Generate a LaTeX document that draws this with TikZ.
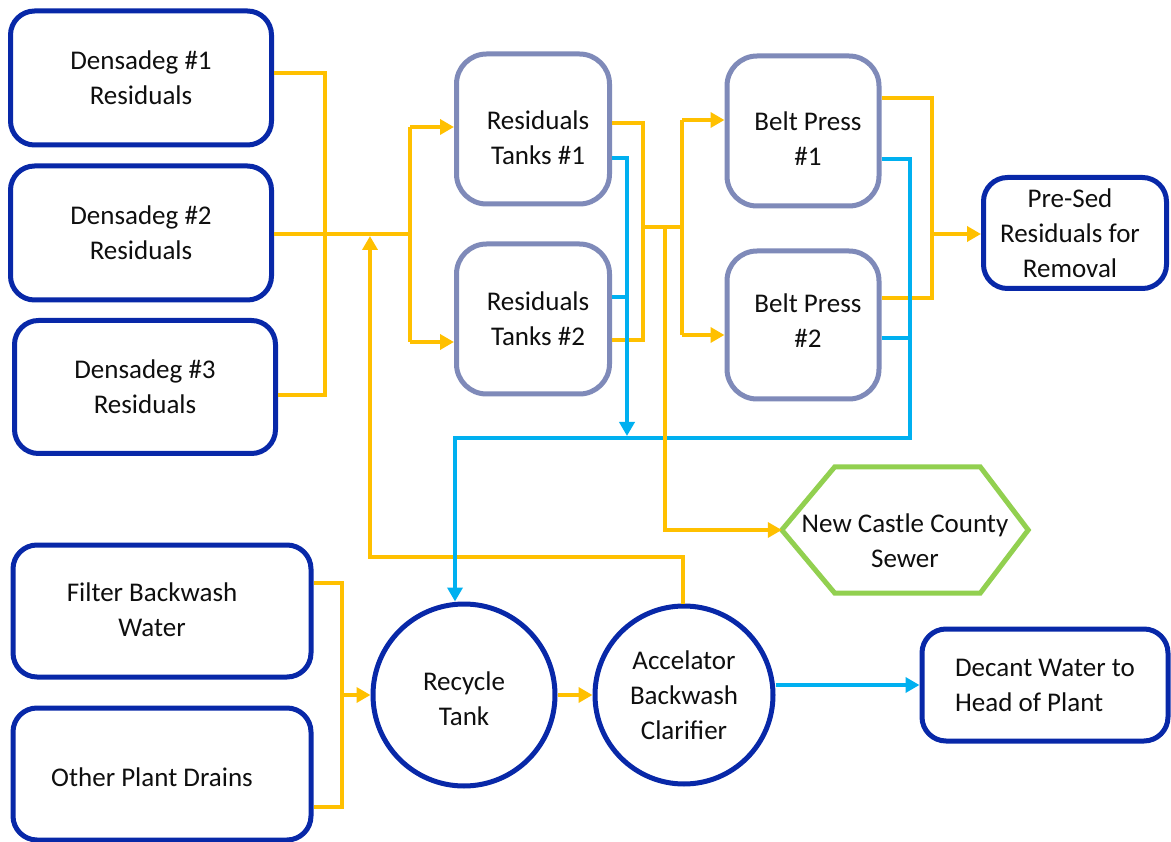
\documentclass[tikz,border=0pt]{standalone}
\usepackage{fontspec}
\setmainfont{Carlito}
\usetikzlibrary{arrows.meta}
\definecolor{dblue}{RGB}{8,40,168}
\definecolor{gblue}{RGB}{127,138,185}
\definecolor{yel}{RGB}{255,192,0}
\definecolor{cyanb}{RGB}{0,176,240}
\definecolor{grn}{RGB}{146,208,80}
\definecolor{txt}{RGB}{15,15,15}
\begin{document}
\begin{tikzpicture}[x=1pt,y=-1pt,
  dbox/.style={draw=dblue, line width=5pt, rounded corners=24pt, fill=white, align=center, inner sep=0pt, text=txt, font=\fontsize{27}{35}\selectfont},
  gbox/.style={dbox, draw=gblue, rounded corners=30pt},
  circ/.style={dbox, circle, rounded corners=0pt},
  plain/.style={align=center, inner sep=0pt, text=txt, font=\fontsize{27}{35}\selectfont},
  yl/.style={draw=yel, line width=4pt},
  bl/.style={draw=cyanb, line width=4pt},
  arr/.style={-{Triangle[length=14pt,width=15pt]}}]
\useasboundingbox (0,0) rectangle (1171,842);
\fill[white] (0,0) rectangle (1171,842);

% nodes
\node[dbox, minimum width=261pt, minimum height=134pt] (d1) at (141,78) {Densadeg \#1\\Residuals};
\node[dbox, minimum width=261pt, minimum height=134pt] (d2) at (141,233) {Densadeg \#2\\Residuals};
\node[dbox, minimum width=261pt, minimum height=133pt] (d3) at (145,387) {Densadeg \#3\\Residuals};
\node[gbox, minimum width=153pt, minimum height=150pt] (rt1) at (533,129) {};
\node[plain] (rt1t) at ([shift={(5,9)}]rt1.center) {Residuals\\Tanks \#1};
\node[gbox, minimum width=153pt, minimum height=150pt] (rt2) at (533,319) {};
\node[plain] (rt2t) at ([shift={(5,0)}]rt2.center) {Residuals\\Tanks \#2};
\node[gbox, minimum width=152pt, minimum height=150pt] (bp1) at (803,131) {};
\node[plain] (bp1t) at ([shift={(5,8)}]bp1.center) {Belt Press\\\#1};
\node[gbox, minimum width=152pt, minimum height=148pt] (bp2) at (803,325) {};
\node[plain] (bp2t) at ([shift={(5,-4)}]bp2.center) {Belt Press\\\#2};
\node[dbox, minimum width=183pt, minimum height=111pt] (ps) at (1075,233) {};
\node[plain] (pst) at ([shift={(-5,0)}]ps.center) {Pre-Sed\\Residuals for\\Removal};
\node[minimum width=246pt, minimum height=126pt, inner sep=0pt] (sewer) at (905,530) {};
\draw[grn, line width=5pt, line join=miter] (sewer.west) -- ([xshift=53pt]sewer.north west) -- ([xshift=-48pt]sewer.north east) -- (sewer.east) -- ([xshift=-48pt]sewer.south east) -- ([xshift=53pt]sewer.south west) -- cycle;
\node[plain] (sewert) at ([shift={(0,11)}]sewer.center) {New Castle County\\Sewer};
\node[dbox, minimum width=298pt, minimum height=132pt] (fb) at (162,611) {};
\node[plain] (fbt) at ([shift={(-10,-1)}]fb.center) {Filter Backwash\\Water};
\node[dbox, minimum width=298pt, minimum height=132pt] (opd) at (162,774) {};
\node[plain] (opdt) at ([shift={(-10,3)}]opd.center) {Other Plant Drains};
\node[circ, minimum size=182pt] (rec) at (464,695) {};
\node[plain] (rect) at ([shift={(0,4)}]rec.center) {Recycle\\Tank};
\node[circ, minimum size=178pt] (acc) at (684,695) {Accelator\\Backwash\\Clarifier};
\node[dbox, minimum width=246pt, minimum height=112pt, align=left] (dec) at (1045,685) {Decant Water to\\Head of Plant};

% yellow: densadeg collector
\draw[yl] (d1.east|-0,73) -- (325,73) -- (325,395) -- (d3.east|-0,395);
\draw[yl] (d2.east|-0,234) -- (410,234);
\draw[yl] (410,127) -- (410,342);
\draw[yl,arr] (410,127) -- (rt1.west|-0,127);
\draw[yl,arr] (410,342) -- (rt2.west|-0,342);
% yellow: clarifier return
\draw[yl,arr] (acc.north-|683,0) -- (683,557) -- (370,557) -- (370,236);
% yellow: tanks to belt presses
\draw[yl] (rt1.east|-0,123) -- (643,123) -- (643,340) -- (rt2.east|-0,340);
\draw[yl] (643,227) -- (682,227);
\draw[yl] (682,120) -- (682,335);
\draw[yl,arr] (682,120) -- (bp1.west|-0,120);
\draw[yl,arr] (682,335) -- (bp2.west|-0,335);
% yellow: belt presses to pre-sed
\draw[yl] (bp1.east|-0,98) -- (932,98) -- (932,298) -- (bp2.east|-0,298);
\draw[yl,arr] (932,234) -- (ps.west|-0,234);
% yellow: lower left
\draw[yl] (fb.east|-0,583) -- (342,583) -- (342,807) -- (opd.east|-0,807);
\draw[yl,arr] (342,695) -- (rec.west);
\draw[yl,arr] (rec.east) -- (acc.west);

% blue
\draw[bl] (rt2.east|-0,297) -- (627,297);
\draw[bl,arr] (rt1.east|-0,158) -- (627,158) -- (627,436);
\draw[bl] (bp2.east|-0,338) -- (910,338);
\draw[bl,arr] (bp1.east|-0,159) -- (910,159) -- (910,438) -- (455,438) -- (rec.north-|455,0);
\draw[bl,arr] (acc.east|-dec.west) -- (dec.west);

% yellow to sewer (on top)
\draw[yl,arr] (665,227) -- (665,530) -- (sewer.west);
\end{tikzpicture}
\end{document}
